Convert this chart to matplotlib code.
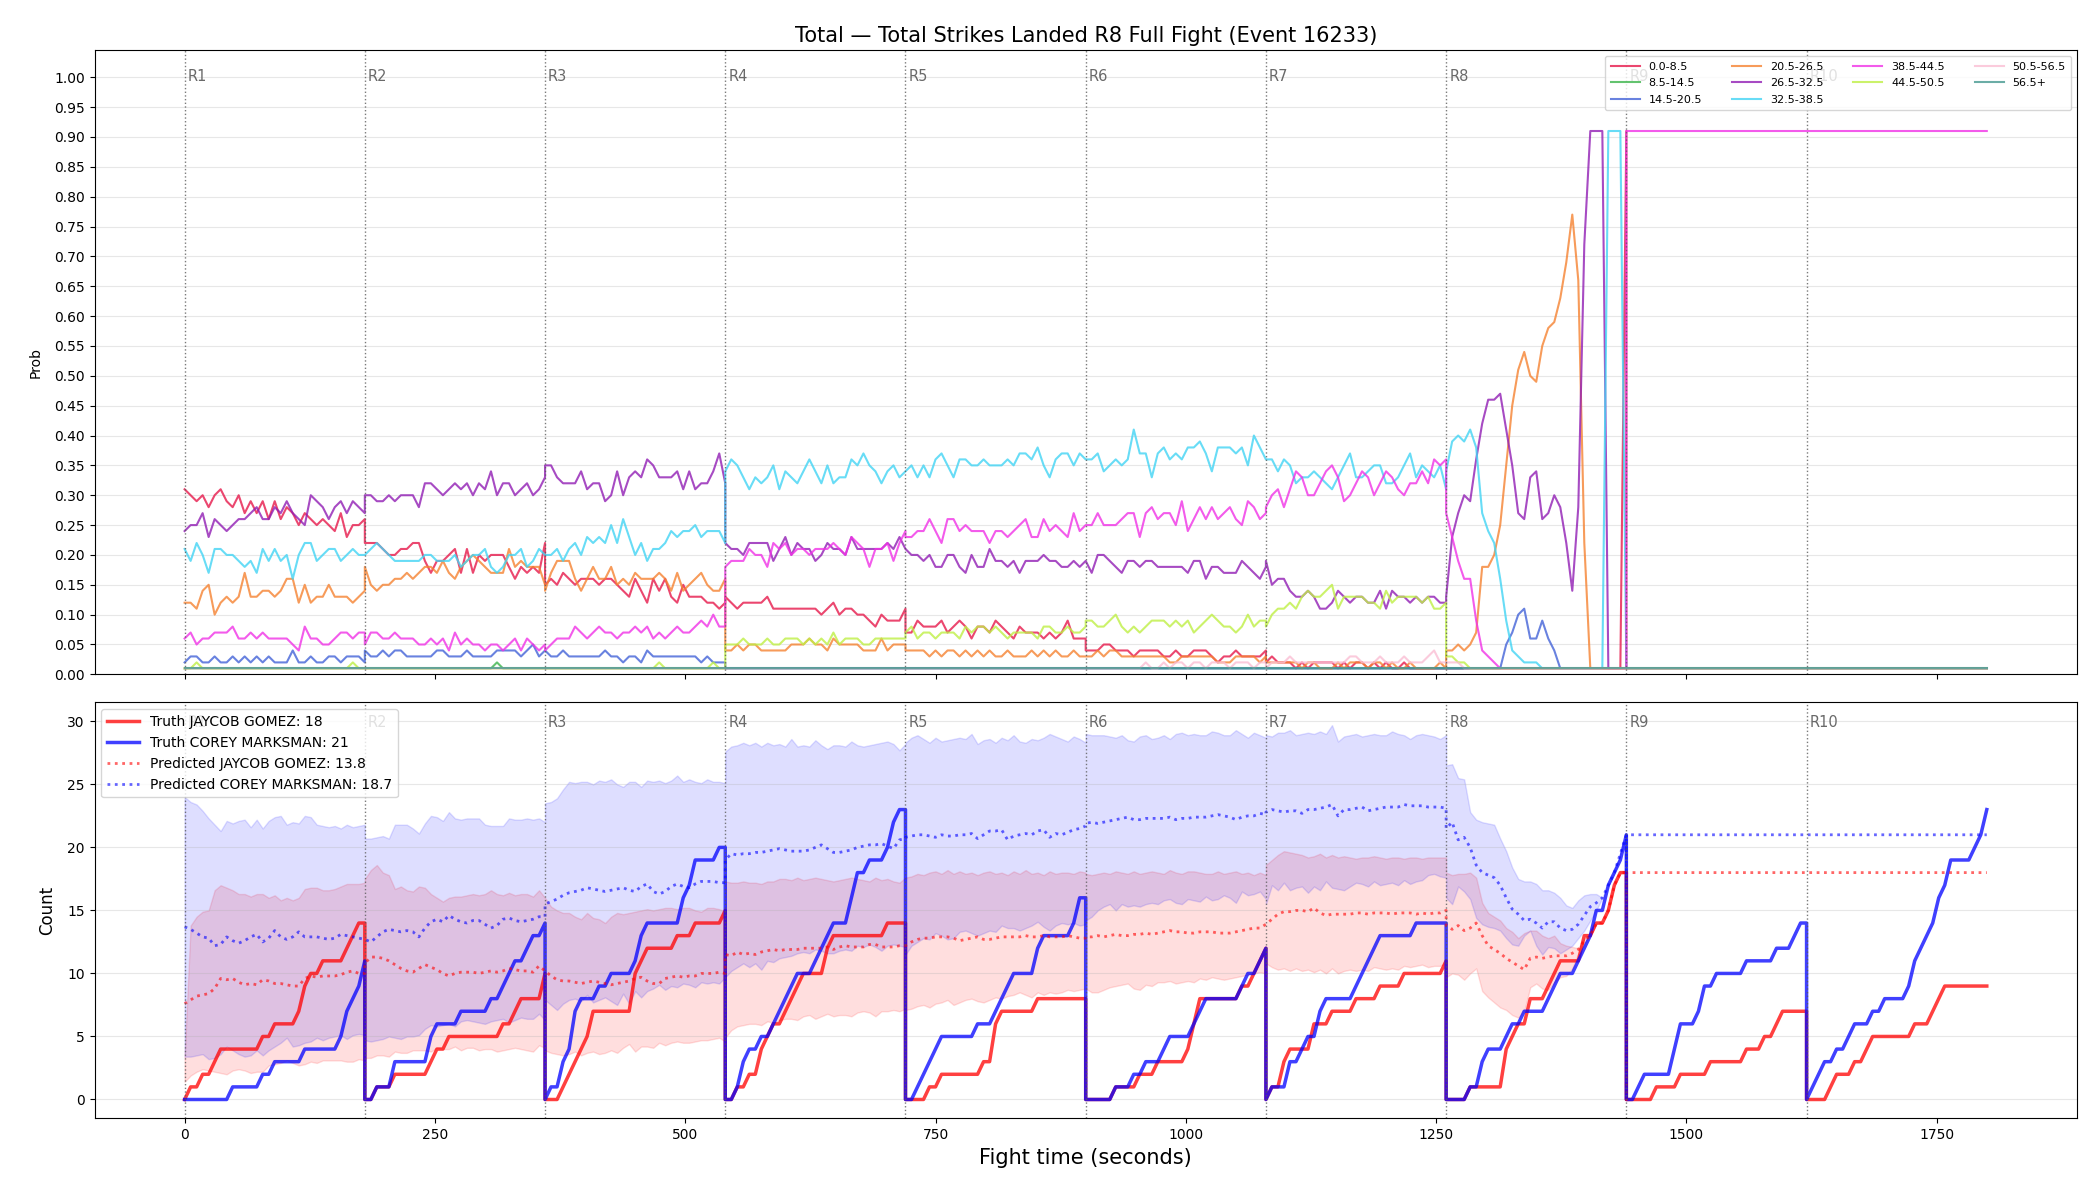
import numpy as np
import matplotlib.pyplot as plt

# fight / round layout
ROUND_LEN = 180
STEP = 6
N_PRED_ROUNDS = 8
N_ROUNDS = 10
FIGHTER_A = 'JAYCOB GOMEZ'
FIGHTER_B = 'COREY MARKSMAN'
PRED_LABEL_A = 13.8
PRED_LABEL_B = 18.7

bin_labels = ['0.0-8.5', '8.5-14.5', '14.5-20.5', '20.5-26.5', '26.5-32.5',
              '32.5-38.5', '38.5-44.5', '44.5-50.5', '50.5-56.5', '56.5+']
bin_colors = ['#e6194b', '#3cb44b', '#4363d8', '#f58231', '#911eb4',
              '#42d4f4', '#f032e6', '#bfef45', '#fabed4', '#469990']

# bin probabilities in percent, one row per round (every 6 s, round end included)
prob_0_8 = [
    31, 30, 29, 30, 28, 30, 31, 29, 28, 30, 27, 29, 27, 29, 26, 29, 26, 28, 27, 25, 27, 26, 25, 26, 25, 24, 27, 23, 25, 25, 26,
    22, 22, 22, 21, 20, 20, 21, 21, 22, 22, 19, 17, 19, 19, 20, 21, 17, 21, 17, 20, 19, 20, 20, 20, 18, 16, 18, 17, 18, 17, 22,
    15, 16, 15, 17, 16, 15, 16, 16, 16, 15, 16, 16, 15, 14, 13, 16, 14, 12, 16, 14, 16, 13, 12, 15, 13, 13, 13, 12, 12, 11, 12,
    13, 12, 11, 12, 12, 12, 12, 13, 11, 11, 11, 11, 11, 11, 11, 11, 10, 11, 12, 10, 11, 11, 10, 10, 9, 8, 10, 9, 9, 9, 11,
    7, 7, 9, 8, 8, 8, 9, 7, 8, 9, 8, 6, 8, 8, 7, 9, 8, 7, 6, 8, 7, 7, 7, 6, 7, 6, 7, 9, 6, 6, 6,
    4, 4, 4, 5, 5, 4, 4, 4, 3, 4, 4, 4, 4, 3, 3, 4, 3, 3, 4, 4, 4, 3, 2, 3, 3, 4, 3, 3, 3, 3, 4,
    2, 3, 2, 2, 2, 1, 2, 1, 2, 2, 2, 2, 1, 2, 1, 2, 2, 1, 2, 1, 2, 1, 1, 2, 1, 1, 1, 1, 1, 1, 1,
    1, 1, 1, 1, 1, 1, 1, 1, 1, 1, 1, 1, 1, 1, 1, 1, 1, 1, 1, 1, 1, 1, 1, 1, 1, 1, 1, 1, 1, 1, 91,
]
prob_8_14 = [
    1, 1, 1, 1, 1, 1, 1, 1, 1, 1, 1, 1, 1, 1, 1, 1, 1, 1, 1, 1, 1, 1, 1, 1, 1, 1, 1, 1, 1, 1, 1,
    1, 1, 1, 1, 1, 1, 1, 1, 1, 1, 1, 1, 1, 1, 1, 1, 1, 1, 1, 1, 1, 1, 2, 1, 1, 1, 1, 1, 1, 1, 1,
    1, 1, 1, 1, 1, 1, 1, 1, 1, 1, 1, 1, 1, 1, 1, 1, 1, 1, 1, 1, 1, 1, 1, 1, 1, 1, 1, 1, 1, 1, 1,
    1, 1, 1, 1, 1, 1, 1, 1, 1, 1, 1, 1, 1, 1, 1, 1, 1, 1, 1, 1, 1, 1, 1, 1, 1, 1, 1, 1, 1, 1, 1,
    1, 1, 1, 1, 1, 1, 1, 1, 1, 1, 1, 1, 1, 1, 1, 1, 1, 1, 1, 1, 1, 1, 1, 1, 1, 1, 1, 1, 1, 1, 1,
    1, 1, 1, 1, 1, 1, 1, 1, 1, 1, 1, 1, 1, 1, 1, 1, 1, 1, 1, 1, 1, 1, 1, 1, 1, 1, 1, 1, 1, 1, 1,
    1, 1, 1, 1, 1, 1, 1, 1, 1, 1, 1, 1, 1, 1, 1, 1, 1, 1, 1, 1, 1, 1, 1, 1, 1, 1, 1, 1, 1, 1, 1,
    1, 1, 1, 1, 1, 1, 1, 1, 1, 1, 1, 1, 1, 1, 1, 1, 1, 1, 1, 1, 1, 1, 1, 1, 1, 1, 1, 1, 1, 1, 1,
]
prob_14_20 = [
    2, 3, 3, 2, 2, 3, 2, 2, 3, 2, 3, 2, 3, 2, 3, 2, 2, 2, 4, 2, 2, 3, 2, 2, 3, 3, 2, 3, 3, 3, 2,
    4, 3, 3, 4, 3, 4, 4, 3, 3, 3, 3, 3, 4, 4, 3, 3, 3, 4, 3, 3, 3, 3, 4, 4, 4, 4, 3, 4, 5, 3, 4,
    4, 3, 3, 4, 3, 3, 3, 3, 3, 3, 4, 3, 3, 2, 3, 3, 2, 4, 3, 3, 3, 3, 3, 3, 3, 3, 2, 3, 2, 2, 2,
    1, 1, 1, 1, 1, 1, 1, 1, 1, 1, 1, 1, 1, 1, 1, 1, 1, 1, 1, 1, 1, 1, 1, 1, 1, 1, 1, 1, 1, 1, 1,
    1, 1, 1, 1, 1, 1, 1, 1, 1, 1, 1, 1, 1, 1, 1, 1, 1, 1, 1, 1, 1, 1, 1, 1, 1, 1, 1, 1, 1, 1, 1,
    1, 1, 1, 1, 1, 1, 1, 1, 1, 1, 1, 1, 1, 1, 1, 1, 1, 1, 1, 1, 1, 1, 1, 1, 1, 1, 1, 1, 1, 1, 1,
    1, 1, 1, 1, 1, 1, 1, 1, 1, 1, 1, 1, 1, 1, 1, 1, 1, 1, 1, 1, 1, 1, 1, 1, 1, 1, 1, 1, 1, 1, 1,
    1, 1, 1, 1, 1, 1, 1, 1, 1, 1, 5, 7, 10, 11, 6, 6, 9, 6, 4, 1, 1, 1, 1, 1, 1, 1, 1, 1, 1, 1, 1,
]
prob_20_26 = [
    12, 12, 11, 14, 15, 10, 12, 13, 12, 13, 17, 13, 13, 14, 14, 13, 14, 16, 16, 12, 15, 12, 13, 13, 15, 13, 13, 13, 12, 13, 14,
    18, 15, 14, 15, 15, 16, 16, 17, 16, 17, 18, 18, 17, 19, 17, 16, 18, 19, 20, 19, 18, 17, 17, 17, 21, 18, 19, 18, 18, 18, 15,
    14, 17, 19, 19, 19, 16, 14, 16, 18, 16, 16, 18, 15, 16, 15, 17, 16, 16, 16, 17, 16, 14, 17, 14, 15, 16, 17, 15, 14, 14, 16,
    4, 4, 5, 4, 5, 5, 4, 4, 4, 4, 4, 5, 5, 5, 6, 5, 5, 4, 6, 5, 5, 5, 5, 4, 4, 4, 6, 4, 5, 5, 5,
    4, 4, 4, 4, 3, 4, 3, 4, 4, 3, 4, 3, 4, 3, 4, 3, 3, 4, 3, 3, 3, 4, 3, 4, 3, 4, 3, 3, 4, 3, 3,
    3, 3, 4, 3, 4, 4, 3, 3, 3, 3, 3, 3, 3, 3, 2, 2, 3, 3, 3, 3, 3, 3, 2, 2, 2, 3, 3, 3, 3, 2, 3,
    2, 2, 2, 2, 2, 2, 1, 2, 2, 1, 1, 1, 2, 1, 2, 2, 2, 1, 2, 2, 1, 2, 1, 1, 2, 1, 1, 1, 1, 2, 1,
    4, 4, 5, 4, 5, 7, 18, 18, 20, 25, 35, 45, 51, 54, 50, 49, 55, 58, 59, 63, 69, 77, 66, 22, 1, 1, 1, 1, 1, 1, 1,
]
prob_26_32 = [
    24, 25, 25, 27, 23, 26, 25, 24, 25, 26, 26, 27, 28, 26, 26, 28, 27, 29, 27, 26, 25, 30, 29, 28, 26, 28, 29, 27, 29, 28, 27,
    30, 30, 29, 29, 30, 29, 30, 30, 30, 28, 32, 32, 31, 30, 31, 32, 31, 32, 30, 32, 31, 34, 30, 32, 32, 30, 31, 32, 30, 31, 33,
    35, 35, 33, 32, 32, 32, 34, 31, 32, 32, 29, 30, 34, 30, 33, 34, 33, 36, 35, 33, 33, 33, 34, 31, 34, 31, 32, 32, 34, 37, 32,
    22, 21, 21, 20, 22, 22, 22, 22, 19, 21, 23, 20, 22, 21, 21, 19, 20, 22, 21, 21, 20, 23, 21, 21, 21, 21, 21, 22, 21, 23, 21,
    21, 20, 20, 19, 20, 18, 18, 20, 20, 18, 17, 20, 18, 18, 21, 19, 19, 18, 19, 17, 19, 19, 19, 20, 19, 19, 18, 18, 19, 18, 19,
    19, 17, 20, 20, 19, 18, 17, 19, 19, 18, 19, 19, 18, 18, 18, 18, 18, 17, 19, 19, 16, 18, 18, 17, 17, 17, 19, 18, 17, 16, 18,
    19, 15, 16, 16, 14, 13, 13, 14, 13, 11, 11, 12, 14, 13, 12, 13, 13, 12, 12, 14, 11, 14, 13, 13, 12, 13, 12, 13, 13, 12, 12,
    13, 23, 27, 30, 29, 36, 42, 46, 46, 47, 41, 35, 27, 26, 33, 34, 26, 27, 30, 28, 22, 14, 28, 72, 91, 91, 91, 1, 1, 1, 1,
]
prob_32_38 = [
    21, 19, 22, 20, 17, 21, 21, 20, 20, 19, 18, 19, 17, 21, 19, 21, 19, 20, 16, 20, 22, 22, 19, 20, 21, 21, 19, 20, 21, 20, 20,
    20, 21, 22, 21, 20, 19, 19, 19, 19, 19, 20, 20, 19, 19, 19, 20, 18, 19, 20, 20, 21, 18, 17, 18, 20, 20, 21, 18, 19, 21, 20,
    20, 20, 21, 19, 21, 22, 20, 23, 22, 23, 22, 25, 22, 26, 23, 20, 22, 19, 21, 21, 22, 24, 23, 24, 24, 25, 23, 24, 24, 24, 22,
    34, 36, 35, 33, 31, 33, 32, 33, 35, 31, 34, 33, 32, 34, 36, 34, 32, 35, 32, 33, 33, 36, 35, 37, 35, 34, 32, 34, 35, 33, 34,
    34, 35, 33, 35, 33, 36, 37, 35, 33, 36, 36, 35, 35, 36, 35, 35, 35, 36, 35, 37, 37, 36, 38, 35, 33, 36, 37, 37, 35, 37, 36,
    36, 36, 37, 34, 35, 36, 35, 36, 41, 37, 37, 33, 37, 38, 36, 37, 36, 38, 38, 39, 37, 34, 38, 38, 38, 37, 38, 35, 40, 38, 36,
    36, 36, 34, 36, 35, 32, 33, 33, 34, 33, 32, 31, 33, 35, 37, 33, 33, 34, 35, 35, 32, 32, 33, 35, 37, 33, 35, 34, 33, 35, 31,
    34, 39, 40, 39, 41, 38, 27, 24, 22, 16, 9, 4, 3, 2, 2, 2, 1, 1, 1, 1, 1, 1, 1, 1, 1, 1, 1, 91, 91, 91, 1,
]
prob_38_44 = [
    6, 7, 5, 6, 6, 7, 7, 7, 8, 6, 6, 7, 6, 7, 6, 6, 6, 6, 5, 4, 8, 6, 6, 5, 5, 6, 7, 7, 6, 7, 7,
    5, 7, 7, 6, 6, 7, 6, 6, 6, 5, 5, 6, 5, 6, 4, 7, 5, 6, 5, 5, 4, 5, 5, 4, 5, 6, 4, 6, 5, 4, 5,
    4, 5, 6, 6, 6, 8, 7, 6, 7, 8, 7, 7, 6, 7, 7, 8, 7, 8, 6, 7, 6, 7, 8, 7, 7, 8, 9, 8, 10, 8, 8,
    18, 19, 19, 19, 21, 20, 20, 18, 22, 21, 22, 20, 21, 21, 20, 21, 21, 21, 22, 21, 20, 23, 22, 21, 18, 21, 21, 22, 19, 22, 24,
    23, 23, 24, 24, 26, 24, 22, 26, 26, 24, 25, 24, 24, 24, 22, 24, 24, 23, 24, 25, 26, 23, 23, 26, 24, 25, 24, 23, 27, 24, 25,
    25, 25, 27, 25, 25, 25, 26, 27, 27, 23, 27, 28, 26, 27, 27, 25, 29, 24, 26, 28, 26, 28, 26, 27, 28, 26, 25, 29, 28, 26, 27,
    28, 30, 31, 28, 31, 34, 33, 30, 30, 32, 34, 35, 33, 29, 30, 32, 34, 33, 30, 32, 34, 33, 31, 30, 32, 32, 34, 32, 36, 35, 36,
    27, 23, 19, 16, 16, 9, 4, 3, 2, 1, 1, 1, 1, 1, 1, 1, 1, 1, 1, 1, 1, 1, 1, 1, 1, 1, 1, 1, 1, 1, 1,
]
prob_44_50 = [
    1, 1, 2, 1, 1, 1, 1, 1, 1, 1, 1, 1, 1, 1, 1, 1, 1, 1, 1, 1, 1, 1, 1, 1, 1, 1, 1, 1, 2, 1, 1,
    1, 1, 1, 1, 1, 1, 1, 1, 1, 1, 1, 1, 1, 1, 1, 1, 1, 1, 1, 1, 1, 1, 1, 1, 1, 1, 1, 1, 1, 1, 1,
    1, 1, 1, 1, 1, 1, 1, 1, 1, 1, 1, 1, 1, 1, 1, 1, 1, 1, 1, 2, 1, 1, 1, 1, 1, 1, 1, 1, 2, 1, 1,
    5, 5, 5, 6, 5, 5, 5, 6, 5, 5, 6, 6, 6, 5, 6, 5, 6, 5, 7, 5, 6, 6, 6, 5, 5, 6, 6, 6, 6, 6, 6,
    7, 8, 6, 7, 7, 6, 7, 7, 7, 6, 8, 7, 8, 8, 7, 8, 7, 6, 7, 7, 7, 7, 6, 8, 8, 7, 7, 8, 7, 7, 8,
    9, 9, 8, 8, 9, 10, 8, 7, 8, 7, 8, 9, 9, 9, 8, 9, 8, 9, 7, 8, 9, 10, 9, 8, 8, 7, 8, 10, 8, 9, 9,
    8, 10, 11, 11, 12, 11, 13, 14, 13, 13, 14, 15, 11, 13, 13, 13, 13, 12, 12, 11, 14, 12, 13, 13, 13, 13, 12, 13, 11, 11, 12,
    3, 3, 2, 2, 1, 1, 1, 1, 1, 1, 1, 1, 1, 1, 1, 1, 1, 1, 1, 1, 1, 1, 1, 1, 1, 1, 1, 1, 1, 1, 1,
]
prob_50_56 = [
    1, 1, 1, 1, 1, 1, 1, 1, 1, 1, 1, 1, 1, 1, 1, 1, 1, 1, 1, 1, 1, 1, 1, 1, 1, 1, 1, 1, 1, 1, 1,
    1, 1, 1, 1, 1, 1, 1, 1, 1, 1, 1, 1, 1, 1, 1, 1, 1, 1, 1, 1, 1, 1, 1, 1, 1, 1, 1, 1, 1, 1, 1,
    1, 1, 1, 1, 1, 1, 1, 1, 1, 1, 1, 1, 1, 1, 1, 1, 1, 1, 1, 1, 1, 1, 1, 1, 1, 1, 1, 1, 1, 1, 1,
    1, 1, 1, 1, 1, 1, 1, 1, 1, 1, 1, 1, 1, 1, 1, 1, 1, 1, 1, 1, 1, 1, 1, 1, 1, 1, 1, 1, 1, 1, 1,
    1, 1, 1, 1, 1, 1, 1, 1, 1, 1, 1, 1, 1, 1, 1, 1, 1, 1, 1, 1, 1, 1, 1, 1, 1, 1, 1, 1, 1, 1, 1,
    1, 1, 1, 1, 1, 1, 1, 1, 1, 1, 2, 1, 1, 2, 1, 2, 2, 1, 2, 2, 1, 2, 2, 2, 1, 2, 2, 2, 1, 2, 2,
    1, 2, 2, 2, 3, 2, 2, 2, 2, 2, 2, 2, 2, 2, 3, 3, 2, 2, 2, 3, 2, 2, 2, 3, 2, 2, 2, 3, 4, 2, 2,
    2, 2, 2, 1, 1, 1, 1, 1, 1, 1, 1, 1, 1, 1, 1, 1, 1, 1, 1, 1, 1, 1, 1, 1, 1, 1, 1, 1, 1, 1, 1,
]
prob_56_up = [
    1, 1, 1, 1, 1, 1, 1, 1, 1, 1, 1, 1, 1, 1, 1, 1, 1, 1, 1, 1, 1, 1, 1, 1, 1, 1, 1, 1, 1, 1, 1,
    1, 1, 1, 1, 1, 1, 1, 1, 1, 1, 1, 1, 1, 1, 1, 1, 1, 1, 1, 1, 1, 1, 1, 1, 1, 1, 1, 1, 1, 1, 1,
    1, 1, 1, 1, 1, 1, 1, 1, 1, 1, 1, 1, 1, 1, 1, 1, 1, 1, 1, 1, 1, 1, 1, 1, 1, 1, 1, 1, 1, 1, 1,
    1, 1, 1, 1, 1, 1, 1, 1, 1, 1, 1, 1, 1, 1, 1, 1, 1, 1, 1, 1, 1, 1, 1, 1, 1, 1, 1, 1, 1, 1, 1,
    1, 1, 1, 1, 1, 1, 1, 1, 1, 1, 1, 1, 1, 1, 1, 1, 1, 1, 1, 1, 1, 1, 1, 1, 1, 1, 1, 1, 1, 1, 1,
    1, 1, 1, 1, 1, 1, 1, 1, 1, 1, 1, 1, 1, 1, 1, 1, 1, 1, 1, 1, 1, 1, 1, 1, 1, 1, 1, 1, 1, 1, 1,
    1, 1, 1, 1, 1, 1, 1, 1, 1, 1, 1, 1, 1, 1, 1, 1, 1, 1, 1, 1, 1, 1, 1, 1, 1, 1, 1, 1, 1, 1, 1,
    1, 1, 1, 1, 1, 1, 1, 1, 1, 1, 1, 1, 1, 1, 1, 1, 1, 1, 1, 1, 1, 1, 1, 1, 1, 1, 1, 1, 1, 1, 1,
]
# after the R8 target round is over
final_probs = [1, 1, 1, 1, 1, 1, 91, 1, 1, 1]

# strike times (s) for the truth lines
strikes_a = [5, 14, 30, 34, 73, 88, 112, 117, 120, 124, 138, 158, 166, 169,
             188, 208, 244, 250, 262, 318, 330, 335, 357, 359,
             374, 383, 390, 395, 400, 404, 408, 447, 449, 450, 452, 457, 490, 509, 538,
             549, 559, 573, 575, 577, 583, 596, 601, 610, 617, 638, 641, 643, 699,
             739, 753, 793, 805, 807, 809, 815, 849,
             929, 953, 967, 1001, 1004, 1006, 1009, 1012, 1053, 1067, 1069, 1078,
             1085, 1096, 1098, 1100, 1125, 1128, 1143, 1169, 1194, 1214, 1255,
             1284, 1316, 1318, 1320, 1325, 1330, 1340, 1344, 1362, 1368, 1373, 1393, 1398,
             1410, 1422, 1425, 1428, 1431,
             1470, 1494, 1519, 1555, 1574, 1585, 1594,
             1643, 1650, 1666, 1680, 1685, 1728, 1745, 1750, 1755]
strikes_b = [44, 78, 88, 120, 156, 157, 158, 167, 169, 175, 179,
             188, 207, 209, 243, 246, 250, 272, 302, 318, 322, 325, 342, 344, 358,
             363, 373, 375, 380, 385, 387, 389, 391, 412, 423, 447, 451, 456, 460,
             496, 498, 500, 506, 508, 531,
             549, 553, 555, 560, 574, 584, 593, 598, 605, 610, 628, 635, 640, 645,
             663, 665, 667, 670, 683, 697, 703, 706, 710,
             728, 735, 741, 747, 753, 791, 805, 812, 820, 824, 849, 852, 854, 888, 891, 893,
             930, 945, 957, 977, 980, 1006, 1009, 1015, 1052, 1060, 1069, 1078,
             1085, 1100, 1104, 1115, 1120, 1130, 1133, 1136, 1170, 1176, 1181, 1185, 1189, 1228,
             1280, 1293, 1295, 1300, 1320, 1325, 1338, 1360, 1365, 1372, 1392, 1396, 1400,
             1405, 1410, 1418, 1422, 1426, 1431, 1436, 1439,
             1452, 1458, 1484, 1487, 1489, 1494, 1510, 1513, 1515, 1529, 1557, 1585, 1604, 1609,
             1624, 1628, 1637, 1650, 1658, 1664, 1685, 1698, 1720, 1725, 1727, 1729, 1738,
             1745, 1748, 1751, 1754, 1760, 1764, 1784, 1790, 1795, 1799]

# predicted counts and interval, same 6 s grid
pred_a = [
    7.6, 7.9, 8.2, 8.3, 8.4, 8.8, 9.6, 9.5, 9.6, 9.3, 9.1, 9.2, 9.1, 9.5, 9.4, 9.2, 9.2, 9.1, 9.0, 9.0, 9.6, 9.8, 9.7, 9.8, 9.8, 9.8, 9.9, 10.1, 10.2, 10.0, 10.0,
    10.8, 11.3, 11.3, 11.2, 11.0, 10.7, 10.4, 10.2, 10.1, 10.4, 10.7, 10.5, 10.3, 10.0, 9.8, 10.0, 10.1, 10.1, 10.1, 10.0, 10.1, 10.2, 10.1, 10.2, 10.4, 10.3, 10.2, 10.2, 10.1, 10.6, 10.2,
    10.2, 9.8, 9.5, 9.4, 9.4, 9.3, 9.2, 9.3, 9.4, 9.3, 9.2, 9.1, 9.2, 9.3, 9.4, 9.6, 9.7, 9.4, 9.2, 9.2, 9.6, 9.7, 9.8, 9.7, 9.8, 9.8, 10.0, 10.0, 10.0, 10.1, 10.0,
    11.5, 11.4, 11.7, 11.5, 11.6, 11.5, 11.7, 11.8, 11.9, 11.8, 11.9, 11.9, 11.9, 12.0, 12.0, 12.0, 12.0, 12.1, 11.9, 12.1, 12.2, 12.1, 12.1, 12.1, 12.3, 12.3, 12.1, 12.1, 12.1, 12.2, 12.2,
    12.2, 12.5, 12.7, 12.8, 12.8, 12.9, 12.9, 12.9, 12.8, 12.6, 12.7, 12.8, 12.9, 12.7, 12.7, 12.8, 12.9, 12.9, 12.9, 12.9, 13.0, 12.9, 12.9, 13.0, 12.9, 12.9, 12.9, 13.0, 12.9, 12.8, 12.8,
    12.9, 12.9, 13.0, 12.9, 13.0, 13.1, 13.0, 13.0, 13.1, 13.1, 13.2, 13.1, 13.2, 13.3, 13.4, 13.3, 13.3, 13.2, 13.2, 13.3, 13.3, 13.3, 13.2, 13.2, 13.2, 13.3, 13.4, 13.5, 13.6, 13.6, 13.9,
    13.9, 14.3, 14.7, 14.9, 14.9, 15.0, 15.0, 14.9, 15.2, 14.8, 14.6, 14.7, 14.7, 14.7, 14.7, 14.8, 14.8, 14.7, 14.8, 14.8, 14.8, 14.7, 14.8, 14.8, 14.8, 14.7, 14.8, 14.7, 14.8, 14.8, 15.0,
    13.8, 13.5, 13.8, 13.4, 13.6, 14.0, 13.0, 12.2, 11.9, 11.6, 11.2, 10.9, 10.6, 10.3, 11.2, 11.3, 11.2, 11.3, 11.4, 11.4, 11.4, 11.6, 11.9, 12.6, 13.0, 14.0, 14.0, 15.0, 17.0, 18.0, 18.0,
]
pred_b = [
    13.7, 13.5, 13.2, 12.9, 12.8, 12.2, 12.3, 12.9, 12.6, 12.4, 12.6, 12.9, 13.1, 12.5, 12.8, 13.4, 12.9, 12.7, 12.9, 13.3, 12.9, 12.9, 12.9, 12.8, 12.7, 12.8, 13.1, 13.0, 12.9, 12.8, 12.7,
    12.7, 12.5, 12.9, 13.3, 13.5, 13.4, 13.3, 13.4, 13.3, 12.9, 13.6, 14.1, 14.3, 14.1, 14.6, 14.3, 14.1, 14.0, 14.2, 14.2, 13.9, 13.6, 13.8, 14.3, 14.4, 14.2, 14.1, 14.2, 14.3, 14.5, 14.5,
    15.5, 15.7, 15.9, 16.2, 16.4, 16.5, 16.6, 16.8, 16.7, 16.6, 16.5, 16.6, 16.7, 16.8, 16.6, 16.5, 16.9, 17.1, 16.5, 16.3, 16.5, 16.9, 17.1, 16.9, 16.8, 17.1, 17.3, 17.3, 17.3, 17.2, 17.2,
    19.0, 19.5, 19.4, 19.5, 19.5, 19.6, 19.6, 19.7, 19.8, 19.9, 19.8, 19.7, 19.7, 19.7, 19.8, 20.0, 20.2, 19.9, 19.6, 19.6, 19.7, 19.8, 20.0, 20.1, 20.2, 20.2, 20.3, 20.1, 19.9, 20.6, 20.7,
    20.8, 20.9, 21.0, 21.0, 20.9, 20.8, 21.0, 20.9, 20.9, 21.0, 21.0, 21.1, 20.7, 21.0, 21.3, 21.3, 21.4, 20.6, 20.9, 21.0, 21.1, 21.0, 21.3, 21.4, 20.8, 21.1, 21.0, 21.2, 21.4, 21.5, 21.7,
    21.9, 22.0, 21.9, 22.0, 22.1, 22.2, 22.3, 22.4, 22.2, 22.2, 22.3, 22.3, 22.3, 22.3, 22.4, 22.2, 22.3, 22.3, 22.4, 22.4, 22.4, 22.5, 22.6, 22.5, 22.4, 22.2, 22.4, 22.5, 22.5, 22.7, 22.6,
    22.8, 23.0, 22.9, 22.8, 22.9, 22.9, 22.7, 23.0, 23.0, 23.1, 23.2, 23.4, 22.5, 23.0, 23.0, 23.1, 23.2, 22.9, 23.0, 23.1, 23.2, 23.2, 23.2, 23.4, 23.3, 23.3, 23.3, 23.2, 23.2, 23.2, 23.1,
    21.5, 22.0, 20.6, 20.8, 20.0, 18.6, 18.0, 17.8, 17.6, 17.0, 16.0, 15.1, 14.7, 14.2, 14.3, 14.0, 13.6, 14.1, 14.1, 13.6, 13.4, 13.5, 13.9, 14.6, 15.3, 15.6, 16.0, 17.0, 18.0, 19.5, 21.0,
]
lo_a = [
    1.4, 1.9, 2.2, 2.4, 2.3, 2.2, 2.1, 2.0, 2.3, 2.4, 2.3, 2.1, 2.2, 2.2, 2.7, 2.8, 2.9, 3.1, 2.9, 2.7, 2.8, 3.0, 2.9, 3.1, 3.1, 3.1, 3.1, 3.0, 3.0, 3.2, 3.1,
    3.3, 3.3, 3.5, 3.5, 3.4, 3.8, 3.7, 3.7, 3.9, 3.9, 3.9, 3.8, 4.1, 4.0, 4.0, 4.2, 3.9, 4.1, 4.1, 3.9, 4.0, 4.0, 3.8, 3.9, 4.0, 4.1, 4.0, 3.9, 3.8, 4.3, 4.1,
    3.9, 3.7, 3.6, 3.5, 3.6, 3.8, 3.5, 3.7, 3.8, 3.6, 3.7, 3.9, 3.7, 4.1, 4.4, 3.8, 4.2, 4.2, 4.1, 4.5, 4.3, 4.5, 4.6, 4.5, 4.5, 4.6, 4.7, 4.7, 4.8, 4.9, 4.6,
    4.9, 5.5, 5.8, 5.9, 6.0, 6.0, 5.9, 6.2, 6.1, 6.3, 6.4, 6.4, 6.3, 6.6, 6.7, 6.4, 6.6, 6.8, 6.6, 6.7, 6.7, 6.6, 6.9, 7.0, 6.9, 6.6, 7.0, 7.0, 7.1, 7.0, 7.2,
    7.1, 7.2, 7.4, 7.5, 7.3, 7.6, 7.7, 7.9, 7.5, 7.7, 7.9, 8.0, 7.8, 7.7, 7.9, 8.1, 8.0, 8.2, 8.3, 8.5, 8.3, 8.1, 8.5, 8.3, 8.5, 8.4, 8.5, 8.7, 8.6, 8.7, 8.8,
    8.8, 8.5, 8.5, 8.7, 8.9, 9.0, 9.1, 9.2, 8.8, 8.7, 9.1, 9.0, 9.3, 9.3, 9.4, 9.2, 9.3, 9.4, 9.3, 9.6, 9.5, 9.7, 9.6, 9.5, 9.6, 9.7, 9.8, 9.9, 10.0, 10.1, 10.0,
    10.8, 10.5, 10.3, 10.4, 10.2, 10.4, 10.2, 10.3, 10.1, 10.3, 10.0, 10.4, 10.0, 10.2, 10.3, 10.2, 10.3, 10.2, 10.5, 10.4, 10.3, 10.4, 10.3, 10.6, 10.5, 10.6, 10.7, 10.5, 10.6, 10.6, 10.8,
    9.7, 10.0, 9.9, 9.5, 10.0, 10.4, 8.6, 8.1, 7.7, 7.3, 7.1, 6.7, 6.5, 7.0, 8.9, 9.2, 8.8, 8.7, 9.3, 9.7, 9.8, 10.4, 11.6, 12.4, 13.0, 14.0, 14.0, 15.0, 17.0, 18.0, 18.0,
]
hi_a = [
    3.4, 13.8, 14.5, 14.9, 15.0, 16.6, 17.0, 16.8, 16.6, 16.3, 16.3, 16.1, 16.3, 16.3, 16.0, 16.2, 15.8, 16.0, 15.8, 16.0, 16.7, 16.8, 16.8, 16.6, 16.6, 16.7, 16.9, 17.1, 17.1, 17.1, 17.2,
    17.5, 18.2, 18.6, 18.0, 17.8, 16.7, 16.9, 16.6, 16.5, 16.9, 16.8, 16.3, 16.0, 15.7, 16.0, 16.1, 16.1, 16.2, 16.3, 16.2, 16.3, 16.6, 16.3, 16.2, 16.4, 16.2, 16.3, 16.3, 16.1, 16.6, 16.0,
    16.0, 15.3, 15.0, 14.8, 14.8, 14.5, 14.3, 14.8, 14.4, 14.3, 14.0, 14.5, 14.8, 14.7, 14.8, 14.9, 15.0, 15.1, 15.0, 15.1, 15.2, 15.2, 15.1, 15.2, 15.2, 15.0, 14.9, 15.2, 15.2, 15.1, 14.9,
    17.3, 17.2, 17.2, 17.3, 17.2, 17.2, 17.1, 17.3, 17.3, 17.5, 17.5, 17.4, 17.6, 17.4, 17.5, 17.6, 17.5, 17.4, 17.3, 17.4, 17.5, 17.6, 17.5, 17.4, 17.3, 17.6, 17.4, 17.5, 17.3, 17.2, 17.6,
    17.6, 17.7, 17.9, 17.8, 18.0, 18.1, 17.9, 18.2, 17.9, 18.1, 17.9, 18.0, 17.8, 18.0, 18.1, 17.9, 18.0, 17.8, 18.1, 17.9, 18.2, 17.9, 18.0, 17.8, 18.1, 17.9, 18.0, 18.0, 17.9, 18.1, 18.0,
    17.9, 17.8, 17.9, 18.0, 17.9, 18.1, 18.0, 17.9, 18.1, 17.9, 18.0, 18.1, 18.0, 17.9, 18.2, 18.0, 17.9, 18.1, 18.1, 18.0, 17.9, 17.9, 18.1, 17.9, 18.0, 18.1, 17.9, 18.0, 17.8, 18.0, 17.8,
    18.6, 19.0, 19.4, 19.7, 19.6, 19.5, 19.4, 19.2, 19.3, 19.5, 19.2, 19.4, 19.2, 19.3, 19.2, 19.1, 19.2, 19.2, 19.3, 19.2, 19.1, 19.2, 19.2, 19.1, 19.2, 19.2, 19.1, 19.2, 19.2, 19.2, 19.2,
    18.0, 17.8, 17.9, 17.9, 18.0, 17.6, 15.6, 14.8, 14.5, 14.2, 13.6, 13.3, 12.8, 13.2, 13.4, 13.4, 13.0, 12.8, 13.0, 12.4, 12.2, 12.1, 12.0, 12.8, 13.0, 14.0, 14.0, 15.0, 17.0, 18.0, 18.0,
]
lo_b = [
    3.4, 3.4, 3.5, 3.6, 3.2, 3.3, 3.6, 4.2, 3.9, 3.6, 3.4, 3.5, 3.9, 3.5, 3.9, 4.2, 4.5, 4.9, 4.2, 4.3, 4.5, 4.6, 4.9, 4.7, 4.9, 5.0, 5.1, 4.8, 5.1, 5.2, 5.1,
    4.7, 4.6, 4.7, 4.8, 5.0, 4.9, 4.8, 5.0, 5.0, 5.1, 5.6, 5.9, 5.8, 5.9, 6.0, 5.8, 6.2, 6.3, 6.2, 6.1, 6.0, 6.2, 6.3, 6.4, 6.1, 6.3, 6.5, 6.4, 6.4, 6.8, 6.3,
    7.9, 7.5, 7.1, 7.6, 7.9, 8.0, 7.8, 8.3, 7.7, 7.9, 8.1, 7.8, 7.5, 8.4, 7.6, 8.6, 8.1, 8.6, 8.8, 9.1, 8.7, 9.0, 8.9, 9.2, 9.1, 8.9, 9.3, 9.2, 9.3, 9.2, 9.7,
    9.7, 10.2, 10.5, 10.8, 10.5, 10.8, 10.3, 11.0, 10.9, 11.2, 11.3, 11.4, 11.6, 11.7, 11.6, 11.9, 11.8, 11.6, 11.6, 11.8, 11.9, 11.8, 12.2, 12.1, 12.3, 12.1, 11.8, 12.2, 12.3, 12.2, 12.1,
    11.5, 12.2, 12.5, 12.8, 12.7, 13.2, 13.0, 12.7, 12.8, 13.3, 13.4, 13.2, 13.0, 13.2, 13.4, 13.3, 13.8, 13.6, 13.6, 13.4, 13.6, 13.8, 14.1, 13.7, 13.4, 13.8, 14.0, 13.9, 14.0, 13.8, 13.9,
    14.2, 14.5, 15.0, 15.3, 15.5, 15.0, 15.5, 15.3, 15.4, 15.3, 15.5, 15.6, 15.5, 15.8, 15.9, 15.6, 15.5, 15.9, 15.8, 15.7, 16.1, 15.8, 15.9, 16.2, 16.0, 15.6, 16.5, 16.2, 16.3, 16.5, 15.9,
    15.5, 17.0, 16.6, 17.2, 16.6, 16.8, 16.9, 16.4, 16.9, 16.6, 17.3, 16.8, 16.7, 16.6, 16.9, 17.2, 17.1, 16.9, 17.3, 17.0, 17.1, 17.2, 17.0, 17.4, 17.1, 17.3, 17.4, 17.8, 17.9, 17.7, 17.6,
    16.0, 15.5, 16.9, 16.5, 15.9, 14.4, 13.9, 13.7, 13.6, 13.4, 12.8, 12.3, 12.2, 13.0, 13.4, 12.2, 11.5, 12.1, 12.0, 11.6, 11.9, 12.2, 12.8, 13.4, 14.2, 15.0, 16.0, 17.0, 18.0, 19.5, 21.0,
]
hi_b = [
    24.0, 23.6, 23.4, 22.9, 22.3, 21.8, 21.3, 22.1, 21.9, 22.1, 22.2, 21.6, 22.2, 21.5, 22.1, 22.4, 22.5, 21.8, 22.0, 21.9, 22.5, 22.4, 21.8, 21.7, 21.6, 21.7, 21.5, 21.8, 21.6, 21.7, 21.8,
    20.7, 20.7, 20.8, 20.9, 20.7, 21.8, 21.8, 21.8, 21.5, 21.1, 21.9, 22.5, 22.4, 22.1, 22.8, 22.3, 22.2, 22.3, 22.3, 22.3, 21.8, 21.7, 21.7, 21.7, 22.3, 22.2, 22.2, 22.3, 22.2, 22.3, 22.0,
    23.5, 23.6, 23.9, 24.6, 25.2, 25.1, 25.2, 25.2, 25.0, 25.3, 25.2, 25.4, 25.0, 24.8, 25.2, 25.2, 24.8, 25.3, 25.2, 25.3, 25.1, 25.3, 25.7, 25.2, 25.4, 25.2, 25.1, 25.4, 25.2, 25.2, 25.1,
    27.6, 28.0, 28.1, 28.3, 28.1, 28.3, 28.0, 28.3, 28.1, 28.2, 28.0, 28.6, 28.0, 28.1, 28.0, 28.5, 28.1, 27.8, 28.1, 28.1, 28.0, 28.4, 28.1, 28.0, 28.1, 28.2, 28.3, 28.4, 28.2, 27.7, 28.2,
    28.3, 28.7, 28.9, 28.6, 28.3, 28.7, 28.4, 28.5, 28.6, 28.7, 28.6, 29.0, 28.2, 28.5, 28.6, 28.3, 28.7, 28.5, 28.9, 28.4, 28.3, 28.6, 28.5, 28.7, 29.0, 28.8, 28.6, 28.4, 28.8, 28.6, 28.3,
    29.0, 28.9, 28.9, 28.9, 28.8, 28.7, 28.9, 28.5, 28.4, 28.8, 28.9, 28.6, 28.7, 28.9, 28.6, 29.0, 29.1, 28.9, 29.0, 28.9, 28.9, 29.2, 29.1, 28.9, 28.9, 29.3, 29.0, 28.7, 29.1, 28.9, 28.7,
    28.9, 28.8, 29.1, 29.1, 29.3, 28.9, 29.0, 29.1, 29.0, 29.2, 29.0, 29.7, 28.4, 28.8, 28.9, 29.0, 28.8, 28.9, 29.0, 28.9, 28.9, 29.2, 29.0, 28.9, 28.6, 28.9, 29.0, 28.9, 28.8, 28.6, 28.9,
    26.5, 26.6, 25.5, 25.4, 22.8, 22.2, 22.0, 21.9, 21.8, 20.7, 19.7, 18.4, 17.5, 17.3, 17.3, 17.1, 16.6, 16.6, 16.4, 16.0, 15.4, 15.2, 15.8, 16.2, 16.3, 16.3, 16.0, 17.0, 18.0, 19.5, 21.0,
]

# time grids: each round sampled every STEP s, both ends kept so resets are vertical
t_round = np.arange(0, ROUND_LEN + 1, STEP)
t_pred = np.concatenate([r * ROUND_LEN + t_round for r in range(N_PRED_ROUNDS)])
t_truth = np.concatenate([r * ROUND_LEN + t_round for r in range(N_ROUNDS)])
t_end = N_PRED_ROUNDS * ROUND_LEN
t_last = N_ROUNDS * ROUND_LEN


def round_counts(strikes):
    s = np.sort(np.asarray(strikes))
    out = []
    for r in range(N_ROUNDS):
        start = r * ROUND_LEN
        in_round = s[(s > start) & (s <= start + ROUND_LEN)]
        out.append(np.searchsorted(in_round, start + t_round, side='right'))
    return np.concatenate(out)


truth_a = round_counts(strikes_a)
truth_b = round_counts(strikes_b)
final_a = int(truth_a[N_PRED_ROUNDS * len(t_round) - 1])
final_b = int(truth_b[N_PRED_ROUNDS * len(t_round) - 1])

fig, (ax1, ax2) = plt.subplots(2, 1, figsize=(21, 12), sharex=True,
                               gridspec_kw={'height_ratios': [3, 2]})
fig.subplots_adjust(left=0.045, right=0.989, top=0.958, bottom=0.068, hspace=0.054)

# --- top: probability per total-strikes bin
all_probs = [prob_0_8, prob_8_14, prob_14_20, prob_20_26, prob_26_32,
             prob_32_38, prob_38_44, prob_44_50, prob_50_56, prob_56_up]
t_top = np.r_[t_pred, t_end, t_last]
for lab, col, vals, fin in zip(bin_labels, bin_colors, all_probs, final_probs):
    y = np.r_[np.array(vals, dtype=float), fin, fin] / 100
    ax1.plot(t_top, y, color=col, lw=1.5, alpha=0.8, label=lab)

ax1.set_ylim(0, 1.045)
ax1.set_yticks(np.arange(0, 1.001, 0.05))
ax1.yaxis.set_major_formatter(plt.FormatStrFormatter('%.2f'))
ax1.set_ylabel('Prob', fontsize=10, labelpad=8)
ax1.set_title('Total — Total Strikes Landed R8 Full Fight (Event 16233)', fontsize=15)
ax1.grid(axis='y', alpha=0.3)
ax1.legend(loc='upper right', ncol=4, fontsize=8, handlelength=2.6, columnspacing=2.7,
           labelspacing=0.6, borderpad=0.5)

# --- bottom: cumulative counts per round
ax2.fill_between(t_pred, lo_a, hi_a, color='red', alpha=0.13)
ax2.fill_between(t_pred, lo_b, hi_b, color='blue', alpha=0.13)
ax2.plot(t_truth, truth_a, color='red', lw=2.5, alpha=0.75, label=f'Truth {FIGHTER_A}: {final_a}')
ax2.plot(t_truth, truth_b, color='blue', lw=2.5, alpha=0.75, label=f'Truth {FIGHTER_B}: {final_b}')
t_pred_full = np.r_[t_pred, t_end, t_end, t_last]
ax2.plot(t_pred_full, np.r_[pred_a, 0, final_a, final_a], ':', color='red', lw=2, alpha=0.6,
         label=f'Predicted {FIGHTER_A}: {PRED_LABEL_A}')
ax2.plot(t_pred_full, np.r_[pred_b, 0, final_b, final_b], ':', color='blue', lw=2, alpha=0.6,
         label=f'Predicted {FIGHTER_B}: {PRED_LABEL_B}')
ax2.set_ylim(-1.5, 31.5)
ax2.set_ylabel('Count', fontsize=12, labelpad=8)
ax2.set_xlabel('Fight time (seconds)', fontsize=15)
ax2.grid(axis='y', alpha=0.3)
ax2.legend(loc='upper left', fontsize=10, handlelength=2.3)

ax2.set_xlim(-90, 1890)
for r in range(N_ROUNDS):
    x0 = r * ROUND_LEN
    for ax in (ax1, ax2):
        ax.axvline(x0, color='0.35', ls=':', lw=1, alpha=0.8)
        ax.text(x0 + 3, 0.97, f'R{r + 1}', transform=ax.get_xaxis_transform(),
                va='top', ha='left', color='dimgray', fontsize=10.5)

fig.savefig('out.png', dpi=100)
